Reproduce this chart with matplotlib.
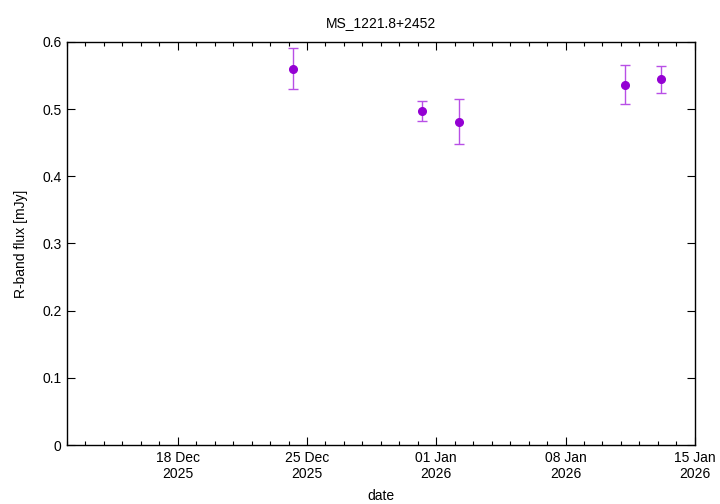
import matplotlib
matplotlib.use("Agg")
import matplotlib.pyplot as plt
import matplotlib.dates as mdates
from matplotlib.ticker import MultipleLocator
import datetime as dt

plt.rcParams['font.family'] = ['Liberation Sans', 'DejaVu Sans']

# Data (date as fractional day)
obs_dates = ["2025-12-24 06:00", "2025-12-31 05:00", "2026-01-02 06:00",
             "2026-01-11 05:00", "2026-01-13 04:00"]
flux = [0.560, 0.497, 0.481, 0.536, 0.544]
flux_lo = [0.530, 0.482, 0.448, 0.508, 0.524]
flux_hi = [0.591, 0.512, 0.515, 0.565, 0.564]

tick_dates = ["2025-12-18", "2025-12-25", "2026-01-01", "2026-01-08", "2026-01-15"]
x_range = ["2025-12-12", "2026-01-15"]

title = "MS_1221.8+2452"
xlabel = "date"
ylabel = "R-band flux [mJy]"

x = [dt.datetime.strptime(d, "%Y-%m-%d %H:%M") for d in obs_dates]
yerr = [[f - l for f, l in zip(flux, flux_lo)], [h - f for f, h in zip(flux, flux_hi)]]

fig = plt.figure(figsize=(7.2, 5.04), dpi=100)
ax = fig.add_axes([0.093, 0.117, 0.872, 0.800])

ax.errorbar(x, flux, yerr=yerr, fmt='none', ecolor='#b84fe6', elinewidth=1.0,
            capsize=3.5, capthick=1.0)
ax.plot(x, flux, 'o', color='#9400d3', markersize=5.5, linestyle='none')

ax.set_xlim(dt.datetime.strptime(x_range[0], "%Y-%m-%d"),
            dt.datetime.strptime(x_range[1], "%Y-%m-%d"))
ax.set_ylim(0, 0.6)

ax.set_xticks([dt.datetime.strptime(d, "%Y-%m-%d") for d in tick_dates])
ax.xaxis.set_major_formatter(mdates.DateFormatter('%d %b\n%Y'))
ax.xaxis.set_minor_locator(mdates.DayLocator())
ax.yaxis.set_major_locator(MultipleLocator(0.1))
ax.yaxis.set_major_formatter(matplotlib.ticker.FuncFormatter(lambda v, p: "0" if abs(v) < 1e-9 else f"{v:.1f}"))

ax.tick_params(which='both', direction='in', top=True, right=True, labelsize=10, color='black')
ax.tick_params(which='major', length=6, width=0.8, pad=4)
ax.tick_params(which='minor', length=3, width=0.8)
for s in ax.spines.values():
    s.set_linewidth(1.0)
    s.set_color('black')

ax.set_title(title, fontsize=10, pad=11)
ax.set_xlabel(xlabel, fontsize=10, labelpad=6)
ax.set_ylabel(ylabel, fontsize=10, labelpad=10)

fig.savefig("out.png", dpi=100)
